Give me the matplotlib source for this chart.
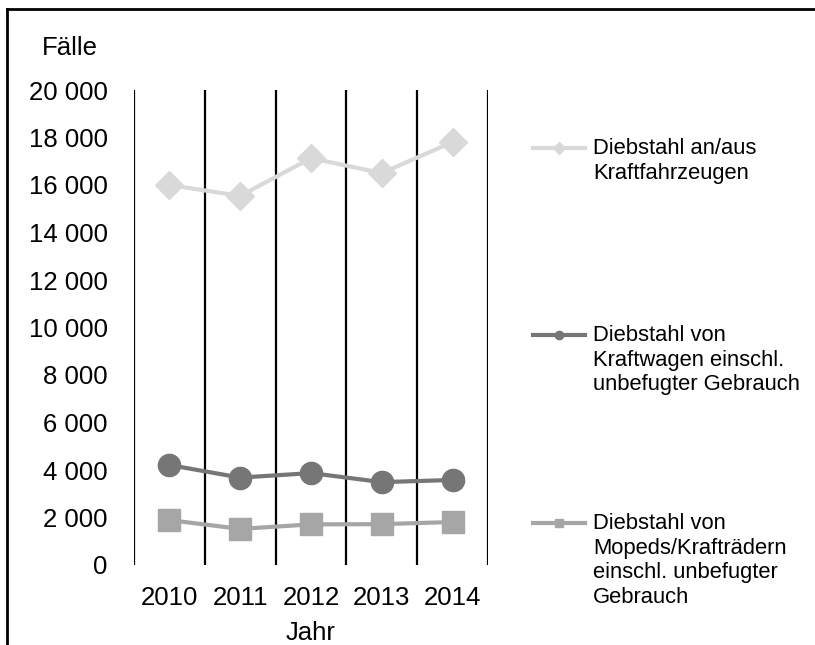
import numpy as np
import matplotlib.pyplot as plt
from matplotlib.lines import Line2D
from matplotlib.ticker import FuncFormatter

plt.rcParams['font.family'] = ['Liberation Sans', 'DejaVu Sans']

# daten
jahre = ['2010', '2011', '2012', '2013', '2014']
kfz = [16000, 15540, 17130, 16500, 17810]
kraftwagen = [4210, 3680, 3870, 3490, 3580]
kraftraeder = [1890, 1520, 1710, 1720, 1810]
labels = ['Diebstahl an/aus\nKraftfahrzeugen',
          'Diebstahl von\nKraftwagen einschl.\nunbefugter Gebrauch',
          'Diebstahl von\nMopeds/Krafträdern\neinschl. unbefugter\nGebrauch']
farben = ['#d9d9d9', '#767676', '#a6a6a6']
marker = ['D', 'o', 's']
msize = [14.5, 16, 16]

W, H = 815, 645
fig = plt.figure(figsize=(W / 100, H / 100), dpi=100)
ax = fig.add_axes([134 / W, 1 - 565 / H, (488 - 134) / W, (565 - 90) / H])

x = np.arange(len(jahre))
for serie, c, m, ms in zip([kfz, kraftwagen, kraftraeder], farben, marker, msize):
    ax.plot(x, serie, color=c, lw=3, marker=m, ms=ms, mec=c, zorder=3)

# senkrechte trennlinien
for xv in np.arange(-0.5, len(jahre), 1):
    ax.axvline(xv, color='black', lw=1.6, zorder=1)

ax.set_xlim(-0.5, len(jahre) - 0.5)
ax.set_ylim(0, 20000)
ax.set_yticks(np.arange(0, 20001, 2000))
ax.yaxis.set_major_formatter(FuncFormatter(lambda v, p: f'{int(v):,}'.replace(',', ' ')))
ax.set_xticks(x)
ax.set_xticklabels(jahre)
ax.tick_params(length=0, labelsize=18.5)
ax.tick_params(axis='y', pad=19)
ax.tick_params(axis='x', pad=15)
for s in ax.spines.values():
    s.set_visible(False)

fig.text(70 / W, 1 - 48 / H, 'Fälle', fontsize=18.5, ha='center', va='center')
fig.text(311 / W, 1 - 633 / H, 'Jahr', fontsize=18.5, ha='center', va='center')

# legende von hand
for yy, c, m, lab in zip([148, 335, 523], farben, marker, labels):
    fig.add_artist(Line2D([533 / W, 585 / W], [1 - yy / H] * 2, color=c, lw=3))
    fig.add_artist(Line2D([559 / W], [1 - yy / H], color=c, marker=m, ms=6, mec=c))
    fig.text(593 / W, 1 - (yy - 10) / H, lab, fontsize=15.8, ha='left', va='top',
             linespacing=1.22)

# rahmen
fig.add_artist(Line2D([7 / W, 7 / W], [0, 1 - 9 / H], color='black', lw=2))
fig.add_artist(Line2D([7 / W, 1], [1 - 9 / H, 1 - 9 / H], color='black', lw=2))

fig.savefig('out.png', dpi=100)
